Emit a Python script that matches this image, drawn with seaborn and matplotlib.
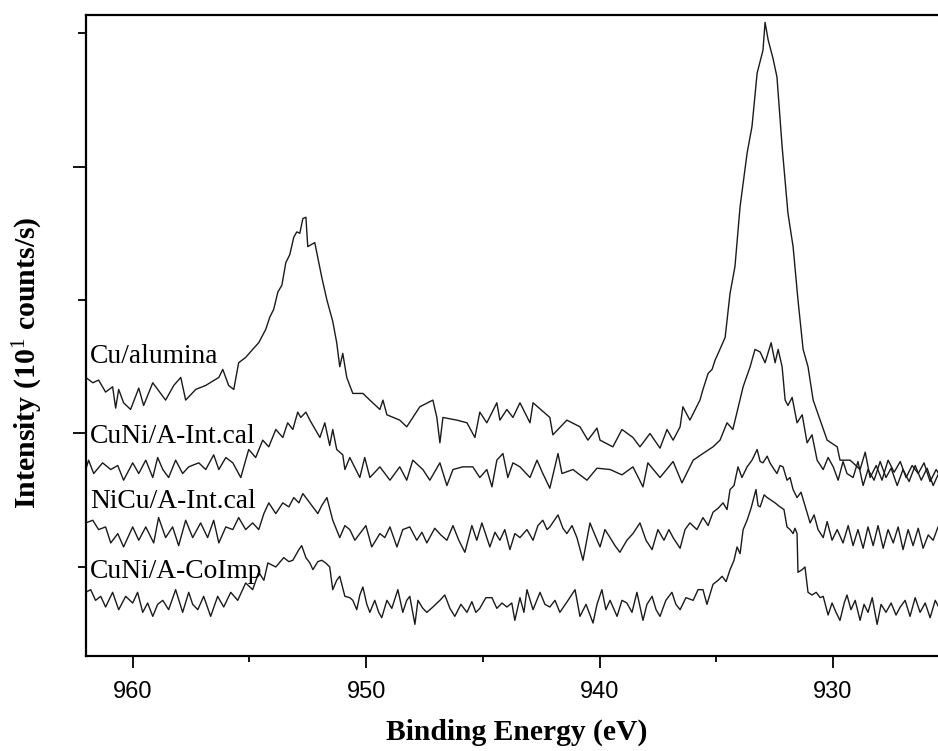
import numpy as np
import pandas as pd
import matplotlib
matplotlib.use("Agg")
import matplotlib.pyplot as plt
import seaborn as sns
from matplotlib.ticker import MultipleLocator

# ---------------- data (binding energy eV, intensity in arbitrary 10^1 counts/s) -------------
sample_names = ["Cu/alumina", "CuNi/A-Int.cal", "NiCu/A-Int.cal", "CuNi/A-CoImp"]

cu_alumina = [
    (962.01, 24.2), (961.71, 23.8), (961.46, 24.0), (961.16, 23.1), (960.86, 23.5), (960.73, 21.9),
    (960.60, 23.3), (960.39, 22.3), (960.09, 21.8), (959.74, 23.4), (959.53, 22.1), (959.14, 23.8),
    (958.59, 22.5), (958.24, 23.6), (957.94, 24.2), (957.73, 22.5), (957.30, 23.3), (956.87, 23.6),
    (956.31, 24.2), (956.14, 24.8), (955.89, 23.6), (955.67, 23.3), (955.46, 25.3), (955.16, 25.7),
    (954.86, 26.3), (954.60, 26.8), (954.30, 27.8), (954.13, 28.7), (953.96, 29.3), (953.78, 30.6),
    (953.61, 31.1), (953.44, 32.8), (953.27, 33.4), (953.10, 34.7), (952.97, 35.1), (952.84, 35.0),
    (952.71, 36.1), (952.58, 36.2), (952.50, 34.0), (952.20, 34.3), (951.90, 31.7), (951.68, 30.0),
    (951.43, 28.4), (951.26, 26.8), (951.13, 25.0), (951.00, 26.0), (950.83, 24.2), (950.57, 23.0),
    (950.14, 23.0), (949.84, 22.5), (949.41, 21.8), (949.28, 22.5), (949.11, 21.4), (948.56, 21.0),
    (948.26, 20.5), (947.70, 22.0), (947.14, 22.5), (946.97, 21.2), (946.84, 19.3), (946.71, 21.2),
    (946.11, 21.0), (945.68, 20.8), (945.34, 19.7), (945.13, 21.6), (944.83, 20.8), (944.40, 22.3),
    (944.27, 21.0), (943.97, 21.8), (943.71, 21.2), (943.41, 22.3), (942.98, 20.8), (942.85, 22.3),
    (942.13, 21.2), (942.00, 19.9), (941.40, 21.0), (940.84, 20.5), (940.50, 19.5), (940.11, 20.4),
    (939.98, 19.5), (939.43, 19.0), (939.04, 20.3), (938.57, 19.7), (938.27, 19.0), (937.84, 20.0),
    (937.41, 18.9), (937.11, 20.3), (936.85, 19.5), (936.55, 20.5), (936.43, 22.0), (936.13, 21.0),
    (935.70, 22.5), (935.57, 23.3), (935.35, 24.5), (935.18, 24.8), (935.05, 25.5), (934.92, 26.0),
    (934.62, 27.2), (934.41, 30.5), (934.20, 32.5), (933.98, 37.0), (933.68, 41.0), (933.47, 43.0),
    (933.25, 47.0), (933.00, 48.7), (932.91, 50.8), (932.78, 49.5), (932.57, 48.1), (932.40, 46.7),
    (932.18, 41.5), (931.93, 36.5), (931.71, 34.0), (931.50, 30.0), (931.28, 26.3), (931.07, 25.0),
    (930.85, 22.5), (930.55, 21.0), (930.25, 19.5), (929.82, 19.0), (929.70, 18.0), (929.27, 18.0),
    (929.14, 17.8), (928.84, 17.3), (928.62, 18.6), (928.41, 16.7), (928.15, 17.6), (927.90, 16.5),
    (927.64, 18.0), (927.38, 17.1), (927.12, 17.9), (926.87, 16.7), (926.61, 17.6), (926.35, 17.0),
    (926.10, 17.8), (925.84, 16.4), (925.58, 17.3), (925.41, 16.8),
]

cuni_int_cal = [
    (962.01, 17.3), (961.89, 18.0), (961.67, 17.0), (961.29, 17.8), (960.94, 17.3), (960.64, 17.6),
    (960.39, 16.5), (960.00, 17.8), (959.74, 17.0), (959.44, 18.0), (959.14, 16.7), (958.93, 18.2),
    (958.71, 17.3), (958.46, 16.7), (958.16, 18.0), (957.86, 17.0), (957.60, 17.5), (957.17, 17.8),
    (956.87, 17.3), (956.53, 18.4), (956.31, 17.3), (956.01, 18.2), (955.71, 17.8), (955.37, 16.7),
    (955.03, 18.8), (954.73, 18.2), (954.43, 19.5), (954.17, 19.0), (953.87, 20.3), (953.57, 19.7),
    (953.36, 20.8), (953.14, 20.3), (952.93, 21.6), (952.80, 21.2), (952.58, 21.6), (952.41, 21.0),
    (951.98, 19.7), (951.77, 20.8), (951.56, 19.1), (951.43, 20.3), (951.26, 18.8), (951.00, 18.4),
    (950.91, 17.3), (950.70, 18.2), (950.27, 16.7), (950.06, 18.2), (949.84, 16.7), (949.41, 17.5),
    (948.98, 16.5), (948.56, 17.5), (948.26, 16.5), (948.00, 18.0), (947.57, 17.3), (947.27, 16.5),
    (946.84, 17.8), (946.54, 16.1), (946.28, 17.3), (945.86, 17.5), (945.43, 17.5), (945.13, 16.7),
    (944.83, 17.3), (944.61, 16.0), (944.40, 18.0), (944.14, 18.5), (943.93, 16.7), (943.71, 17.8),
    (943.41, 17.5), (942.98, 16.7), (942.68, 18.0), (942.43, 17.0), (942.13, 15.9), (941.78, 18.5),
    (941.61, 17.0), (941.14, 17.3), (940.54, 16.5), (940.11, 17.4), (939.55, 17.3), (939.04, 16.9),
    (938.57, 17.5), (938.14, 16.0), (937.93, 17.8), (937.41, 16.7), (936.85, 17.9), (936.47, 16.3),
    (935.99, 18.0), (935.57, 18.5), (935.14, 19.0), (934.84, 19.5), (934.54, 20.8), (934.29, 20.3),
    (933.85, 23.5), (933.55, 25.0), (933.34, 26.3), (933.12, 26.1), (932.91, 25.3), (932.65, 26.8),
    (932.48, 25.3), (932.35, 26.3), (932.18, 25.0), (932.05, 22.5), (931.93, 22.1), (931.75, 22.7),
    (931.54, 20.8), (931.32, 21.4), (931.11, 19.3), (930.90, 19.9), (930.68, 18.0), (930.42, 17.3),
    (930.21, 18.2), (929.99, 17.5), (929.78, 16.5), (929.57, 17.9), (929.40, 17.0), (929.14, 16.7),
    (928.93, 17.9), (928.71, 16.1), (928.50, 17.3), (928.24, 16.5), (927.98, 17.9), (927.73, 16.7),
    (927.51, 17.4), (927.25, 16.1), (927.00, 17.3), (926.74, 16.4), (926.48, 17.6), (926.22, 16.5),
    (925.97, 17.4), (925.71, 16.1), (925.45, 17.1),
]

nicu_int_cal = [
    (962.01, 13.3), (961.71, 13.5), (961.46, 12.8), (961.16, 13.0), (960.94, 11.8), (960.64, 12.5),
    (960.39, 11.5), (960.00, 13.0), (959.74, 12.0), (959.44, 13.0), (959.10, 11.8), (958.89, 13.7),
    (958.59, 12.2), (958.29, 13.0), (958.03, 11.6), (957.73, 13.5), (957.43, 12.2), (957.09, 13.3),
    (956.79, 12.2), (956.53, 13.5), (956.31, 11.8), (956.01, 13.0), (955.71, 12.8), (955.46, 13.7),
    (955.16, 12.8), (954.86, 13.3), (954.60, 12.8), (954.38, 14.0), (954.17, 14.8), (953.87, 14.0),
    (953.57, 14.8), (953.31, 14.5), (953.10, 15.2), (952.88, 14.8), (952.71, 15.5), (952.41, 14.8),
    (952.07, 14.0), (951.90, 14.6), (951.68, 15.2), (951.43, 13.5), (951.13, 12.2), (950.91, 13.1),
    (950.70, 12.8), (950.48, 12.0), (950.27, 12.5), (950.01, 13.1), (949.76, 11.5), (949.41, 12.5),
    (949.20, 12.2), (948.98, 13.0), (948.68, 11.5), (948.43, 12.8), (948.13, 13.0), (947.83, 12.0),
    (947.61, 12.6), (947.40, 11.8), (947.06, 12.9), (946.80, 12.4), (946.54, 12.0), (946.28, 13.1),
    (946.03, 12.0), (945.77, 11.1), (945.47, 13.1), (945.26, 12.0), (945.04, 13.3), (944.87, 12.4),
    (944.70, 11.5), (944.48, 12.6), (944.27, 12.0), (944.06, 12.8), (943.84, 11.3), (943.63, 12.5),
    (943.41, 12.2), (943.11, 12.8), (942.85, 12.0), (942.64, 13.1), (942.43, 13.5), (942.25, 12.8),
    (942.13, 13.0), (941.78, 13.9), (941.57, 12.9), (941.40, 12.5), (941.18, 13.1), (940.97, 12.2),
    (940.71, 10.5), (940.41, 13.3), (940.20, 12.4), (939.98, 11.5), (939.77, 12.8), (939.55, 12.2),
    (939.34, 11.6), (939.13, 11.1), (938.83, 12.0), (938.57, 12.5), (938.27, 13.3), (938.01, 12.0),
    (937.75, 11.3), (937.50, 12.8), (937.24, 12.0), (937.03, 12.8), (936.85, 12.2), (936.55, 11.4),
    (936.34, 12.8), (936.13, 13.3), (935.83, 12.8), (935.57, 13.7), (935.35, 13.1), (935.14, 14.1),
    (934.92, 14.4), (934.71, 14.8), (934.54, 14.3), (934.41, 15.8), (934.24, 16.1), (934.07, 17.5),
    (933.90, 16.7), (933.68, 17.5), (933.47, 18.0), (933.25, 18.8), (933.12, 17.9), (933.00, 17.8),
    (932.82, 18.3), (932.70, 17.8), (932.52, 17.3), (932.40, 17.0), (932.27, 17.6), (932.14, 17.5),
    (931.97, 16.5), (931.84, 16.7), (931.71, 15.8), (931.54, 15.2), (931.37, 15.6), (931.20, 14.6),
    (930.98, 13.3), (930.81, 13.9), (930.64, 12.8), (930.42, 12.2), (930.25, 13.4), (930.04, 12.0),
    (929.82, 12.8), (929.57, 11.8), (929.35, 13.1), (929.14, 11.6), (928.93, 12.8), (928.71, 11.4),
    (928.50, 13.0), (928.28, 11.6), (928.07, 13.1), (927.85, 11.4), (927.64, 12.8), (927.42, 11.8),
    (927.21, 13.0), (927.00, 11.3), (926.78, 12.8), (926.57, 11.6), (926.35, 12.9), (926.14, 11.4),
    (925.92, 12.4), (925.71, 12.0), (925.50, 13.0),
]

cuni_coimp = [
    (962.01, 8.1), (961.80, 8.3), (961.59, 7.5), (961.37, 7.8), (961.16, 7.0), (960.86, 8.1),
    (960.60, 6.8), (960.30, 7.8), (960.00, 7.3), (959.79, 8.1), (959.57, 6.6), (959.36, 7.3),
    (959.14, 6.3), (958.93, 7.2), (958.71, 7.5), (958.46, 6.8), (958.16, 8.3), (957.86, 6.6),
    (957.60, 8.1), (957.43, 7.2), (957.21, 6.8), (956.96, 7.8), (956.66, 6.3), (956.36, 7.8),
    (956.10, 7.0), (955.80, 8.1), (955.50, 7.5), (955.16, 8.8), (954.86, 8.3), (954.60, 9.6),
    (954.38, 9.0), (954.21, 10.3), (953.87, 10.0), (953.53, 10.7), (953.31, 10.4), (953.14, 10.5),
    (952.88, 11.3), (952.76, 11.6), (952.58, 10.7), (952.41, 10.3), (952.28, 9.8), (952.07, 10.4),
    (951.90, 10.5), (951.73, 10.3), (951.56, 10.0), (951.43, 8.3), (951.26, 9.0), (951.13, 9.3),
    (950.91, 7.8), (950.70, 7.7), (950.57, 7.5), (950.40, 6.8), (950.27, 7.9), (950.14, 8.5),
    (949.97, 7.2), (949.84, 6.6), (949.63, 7.5), (949.46, 6.6), (949.33, 6.2), (949.11, 7.5),
    (948.90, 6.9), (948.64, 8.3), (948.43, 6.6), (948.26, 7.5), (948.13, 7.8), (947.91, 5.7),
    (947.78, 7.5), (947.57, 6.9), (947.40, 6.6), (947.14, 7.0), (946.84, 7.5), (946.63, 7.9),
    (946.41, 6.9), (946.20, 6.3), (945.94, 7.2), (945.68, 6.6), (945.47, 7.4), (945.30, 6.6),
    (945.13, 6.9), (944.87, 7.7), (944.61, 7.7), (944.40, 6.9), (944.18, 7.3), (943.97, 7.0),
    (943.76, 7.3), (943.63, 6.0), (943.41, 7.7), (943.24, 6.6), (943.11, 8.3), (942.85, 6.8),
    (942.55, 8.1), (942.34, 7.2), (942.13, 7.0), (941.91, 7.5), (941.70, 6.6), (941.35, 7.5),
    (941.05, 8.3), (940.84, 6.3), (940.58, 7.2), (940.28, 5.8), (940.11, 7.2), (939.90, 8.3),
    (939.73, 6.8), (939.55, 7.5), (939.25, 6.3), (939.04, 7.5), (938.83, 7.3), (938.61, 6.6),
    (938.40, 8.1), (938.14, 6.0), (937.97, 7.2), (937.75, 7.8), (937.58, 6.8), (937.41, 6.3),
    (937.16, 7.5), (936.90, 8.1), (936.73, 7.2), (936.55, 6.8), (936.30, 7.7), (935.99, 7.5),
    (935.78, 8.3), (935.57, 8.3), (935.40, 7.2), (935.14, 8.7), (934.92, 9.0), (934.75, 9.3),
    (934.58, 8.9), (934.41, 9.8), (934.24, 10.5), (934.11, 11.5), (933.98, 11.0), (933.85, 12.8),
    (933.68, 13.5), (933.51, 14.4), (933.30, 15.8), (933.21, 14.6), (933.12, 14.5), (932.95, 15.4),
    (932.82, 15.2), (932.65, 15.0), (932.48, 14.8), (932.27, 14.5), (932.10, 14.3), (931.97, 13.0),
    (931.84, 12.8), (931.71, 12.5), (931.63, 12.9), (931.54, 12.5), (931.50, 9.6), (931.32, 9.8),
    (931.20, 10.0), (931.07, 8.1), (930.90, 7.9), (930.72, 8.1), (930.55, 7.7), (930.42, 7.8),
    (930.21, 6.4), (930.04, 7.3), (929.87, 6.6), (929.70, 6.0), (929.52, 7.3), (929.40, 7.9),
    (929.23, 6.8), (929.05, 7.5), (928.84, 6.0), (928.67, 7.2), (928.50, 6.6), (928.32, 7.7),
    (928.11, 5.7), (927.94, 7.2), (927.73, 6.6), (927.51, 7.3), (927.30, 6.4), (927.12, 7.0),
    (926.91, 7.5), (926.70, 6.3), (926.48, 7.7), (926.27, 6.6), (926.05, 7.3), (925.84, 6.2),
    (925.62, 7.5), (925.41, 6.8),
]

x_ticks = [960, 950, 940, 930]

# ---------------- build long table ----------------
frames = []
for name, pts in zip(sample_names, [cu_alumina, cuni_int_cal, nicu_int_cal, cuni_coimp]):
    d = pd.DataFrame(pts, columns=["be", "intensity"])
    d["sample"] = name
    frames.append(d)
data = pd.concat(frames, ignore_index=True)

# ---------------- style ----------------
sns.set_theme(style="ticks")
plt.rcParams['font.family'] = ['Liberation Serif', 'DejaVu Serif']
plt.rcParams['mathtext.fontset'] = 'custom'
plt.rcParams['mathtext.rm'] = 'Liberation Serif'
plt.rcParams['mathtext.it'] = 'Liberation Serif'
plt.rcParams['mathtext.bf'] = 'Liberation Serif:bold'

fig = plt.figure(figsize=(9.38, 7.51), dpi=100)
ax = fig.add_axes([86 / 938, 1 - 656 / 751, (938 - 86) / 938 + 0.01, (656 - 15) / 751])

sns.lineplot(data=data, x="be", y="intensity", hue="sample",
             palette=["#1a1a1a"] * 4, estimator=None, sort=False,
             linewidth=1.0, legend=False, ax=ax)

ax.set_xlim(962.0, 925.1)
ax.set_ylim(3.33, 51.35)

ax.set_xticks(x_ticks)
ax.xaxis.set_minor_locator(MultipleLocator(5))
ax.yaxis.set_major_locator(MultipleLocator(20))
ax.yaxis.set_minor_locator(MultipleLocator(10))
ax.tick_params(axis='x', which='major', direction='out', length=8.3, width=1.3, color='black', pad=10)
ax.tick_params(axis='x', which='minor', direction='out', length=4.3, width=1.3, color='black')
ax.tick_params(axis='y', which='major', direction='out', length=9.5, width=1.3, color='black')
ax.tick_params(axis='y', which='minor', direction='out', length=5.5, width=1.3, color='black')
ax.tick_params(axis='y', labelleft=False)
for lab in ax.get_xticklabels():
    lab.set_fontfamily(['Liberation Sans', 'DejaVu Sans'])
    lab.set_fontsize(17)
    lab.set_color('black')

for side in ['left', 'bottom', 'top']:
    ax.spines[side].set_linewidth(1.6)
    ax.spines[side].set_color('black')
ax.spines['right'].set_visible(False)

ax.set_xlabel("Binding Energy (eV)", fontsize=21.3, fontweight='bold', color='black')
ax.set_ylabel(r"Intensity (10$^{1}$ counts/s)", fontsize=21.5, fontweight='bold', color='black')
ax.xaxis.set_label_coords(0.5, -0.097)
ax.yaxis.set_label_coords(-0.048, 0.457)

label_y = [25.3, 19.3, 14.4, 9.2]
for name, yv in zip(sample_names, label_y):
    ax.text(961.84, yv, name, fontsize=19.8, va='baseline', ha='left', color='black')

fig.savefig("out.png", dpi=100)
